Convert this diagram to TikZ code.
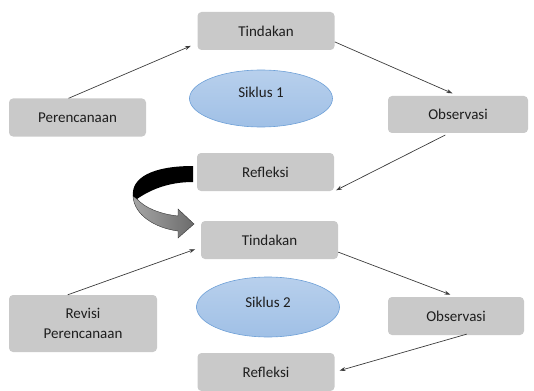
\documentclass[tikz,border=0pt]{standalone}
\usepackage{fontspec}
\setmainfont{Carlito}
\usetikzlibrary{arrows.meta,shapes.geometric}
\definecolor{kotakabu}{RGB}{201,201,201}
\definecolor{teksgelap}{RGB}{30,30,30}
\definecolor{birumuda}{RGB}{160,192,230}
\definecolor{birutua}{RGB}{110,160,215}
\definecolor{garis}{RGB}{60,60,60}

\begin{document}
\begin{tikzpicture}[x=1pt,y=-1pt,
    kotak/.style={fill=kotakabu,rounded corners=4pt,inner sep=0pt,
      minimum width=137pt,minimum height=38pt,align=center,
      text=teksgelap,font=\fontsize{15}{20}\selectfont},
    siklus/.style={ellipse,draw=birutua,line width=0.6pt,
      top color=birumuda!75,bottom color=birumuda,
      minimum width=143pt,minimum height=57pt,inner sep=0pt},
    judul/.style={text=teksgelap,font=\fontsize{15}{18}\selectfont},
    panah/.style={draw=garis,line width=0.7pt,-{Stealth[length=6pt,width=4pt]}}]
  \useasboundingbox (0,0) rectangle (534,390);
  % siklus 1
  \node[kotak] (tind1) at (266,31) {Tindakan};
  \node[kotak] (plan1) at (77.5,117.5) {Perencanaan};
  \node[kotak,minimum width=140pt,minimum height=37pt] (obs1) at (458,114.5) {Observasi};
  \node[kotak] (refl1) at (265.5,172) {Refleksi};
  \node[siklus] (sik1) at (261,98.5) {};
  \node[judul] (sik1t) at (261,92) {Siklus 1};
  % siklus 2
  \node[kotak] (tind2) at (269.5,240) {Tindakan};
  \node[kotak,minimum width=148pt,minimum height=57pt] (plan2) at (83,323.5) {Revisi\\Perencanaan};
  \node[kotak,minimum width=136pt] (obs2) at (456,316) {Observasi};
  \node[kotak] (refl2) at (266,372) {Refleksi};
  \node[siklus,minimum height=60pt] (sik2) at (268,307) {};
  \node[judul] (sik2t) at (268,302) {Siklus 2};
  % panah siklus
  \draw[panah,shorten >=7pt] (plan1.115) -- (tind1.190);
  \draw[panah,shorten >=6pt] (tind1.351) -- (obs1.north);
  \draw[panah,shorten <=4pt,shorten >=2pt] (obs1.244) -- (refl1.south east);
  \draw[panah,shorten >=6pt] (plan2.118) -- (tind2.186);
  \draw[panah,shorten >=6pt] (tind2.350) -- (obs2.north);
  \draw[panah,shorten <=-4pt,shorten >=5pt] (obs2.290) -- (refl2.east);
  % panah lengkung refleksi -> tindakan (bagian bawah abu-abu)
  \shade[left color=black!35,right color=black!58,draw=black!80,line width=0.4pt]
    (133,196) .. controls (134,215) and (155,228) .. (178,231)
    -- (178,238) -- (194,224) -- (178,209) -- (178,216)
    .. controls (160,214) and (145,208) .. (137,199) -- cycle;
  % bagian atas hitam
  \fill[black]
    (193,166) .. controls (152,166) and (131,178) .. (133,196)
    -- (137,199) .. controls (150,190) and (168,182) .. (193,182) -- cycle;
\end{tikzpicture}
\end{document}
